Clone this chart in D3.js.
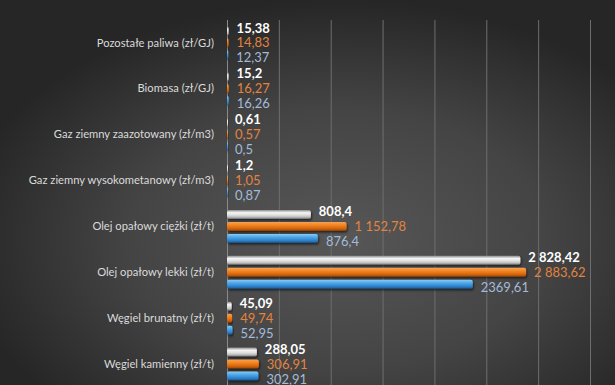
<!DOCTYPE html>
<html>
<head>
<meta charset="utf-8">
<script src="https://cdn.jsdelivr.net/npm/d3@7"></script>
<style>
  html, body { margin: 0; padding: 0; background: #2b2b2b; }
  svg { display: block; }
  text { font-family: Lato, "Liberation Sans", sans-serif; }
</style>
</head>
<body>
<div id="chart"></div>
<script>
// Fuel prices by type
const categories = [
  'Pozostałe paliwa (zł/GJ)',
  'Biomasa (zł/GJ)',
  'Gaz ziemny zaazotowany (zł/m3)',
  'Gaz ziemny wysokometanowy (zł/m3)',
  'Olej opałowy ciężki (zł/t)',
  'Olej opałowy lekki (zł/t)',
  'Węgiel brunatny (zł/t)',
  'Węgiel kamienny (zł/t)'
]
const seriesWhite = [15.38, 15.2, 0.61, 1.2, 808.4, 2828.42, 45.09, 288.05]
const seriesOrange = [14.83, 16.27, 0.57, 1.05, 1152.78, 2883.62, 49.74, 306.91]
const seriesBlue = [12.37, 16.26, 0.5, 0.87, 876.4, 2369.61, 52.95, 302.91]
const labelsWhite = ['15,38', '15,2', '0,61', '1,2', '808,4', '2 828,42', '45,09', '288,05']
const labelsOrange = ['14,83', '16,27', '0,57', '1,05', '1 152,78', '2 883,62', '49,74', '306,91']
const labelsBlue = ['12,37', '16,26', '0,5', '0,87', '876,4', '2369,61', '52,95', '302,91']
const xTicks = [0, 500, 1000, 1500, 2000, 2500, 3000, 3500]

const width = 615,
      height = 385

const svg = d3.select('#chart')
  .append('svg')
  .attr('width', width)
  .attr('height', height)

const defs = svg.append('defs')

// background
const bg = defs.append('radialGradient')
  .attr('id', 'bg')
  .attr('cx', '55%').attr('cy', '62%').attr('r', '62%')
bg.append('stop').attr('offset', '0%').attr('stop-color', '#575757')
bg.append('stop').attr('offset', '55%').attr('stop-color', '#444444')
bg.append('stop').attr('offset', '100%').attr('stop-color', '#262626')

svg.append('rect')
  .attr('width', width)
  .attr('height', height)
  .attr('fill', 'url(#bg)')

// bar gradients
const series = [
  { key: 'w', values: seriesWhite, labels: labelsWhite, text: '#ffffff', weight: 'bold',
    stops: ['#8c8c8c', '#f4f4f4', '#e2e2e2', '#bcbcbc', '#6d6d6d'] },
  { key: 'o', values: seriesOrange, labels: labelsOrange, text: '#e3833f', weight: 'normal',
    stops: ['#f2a35c', '#f48a2a', '#e9740f', '#c95f0a', '#8a3e05'] },
  { key: 'b', values: seriesBlue, labels: labelsBlue, text: '#a3bbd9', weight: 'normal',
    stops: ['#8ccbf3', '#56acea', '#3a95dc', '#2b78c0', '#174d80'] }
]

series.forEach(s => {
  const g = defs.append('linearGradient')
    .attr('id', 'grad-' + s.key)
    .attr('x1', 0).attr('y1', 0).attr('x2', 0).attr('y2', 1)
  const offs = [0, 0.3, 0.55, 0.8, 1]
  s.stops.forEach((c, i) => {
    g.append('stop').attr('offset', offs[i]).attr('stop-color', c)
  })
})

const shadow = defs.append('filter')
  .attr('id', 'shadow')
  .attr('x', '-5%').attr('y', '-30%').attr('width', '120%').attr('height', '190%')
shadow.append('feDropShadow')
  .attr('dx', 1).attr('dy', 1.5).attr('stdDeviation', 1)
  .attr('flood-color', '#000').attr('flood-opacity', 0.6)

// scales
const x = d3.scaleLinear()
  .domain([0, 3500])
  .range([227, 590])

const y = d3.scaleBand()
  .domain(categories)
  .range([20, 387])

const y1 = d3.scaleBand()
  .domain([0, 1, 2])
  .range([y.bandwidth() / 2 - 16.5, y.bandwidth() / 2 + 16.5])
  .paddingInner(0.25)

// gridlines
svg.append('g')
  .attr('class', 'grid')
  .attr('transform', `translate(0, ${ height })`)
  .call(d3.axisBottom(x)
    .tickValues(xTicks.slice(1))
    .tickSize(-(height - 20))
    .tickFormat(''))
  .call(g => g.select('.domain').remove())
  .call(g => g.selectAll('line').attr('stroke', '#6e6e6e').attr('stroke-width', 1))

// category axis
svg.append('g')
  .attr('transform', `translate(${ x(0) }, 0)`)
  .call(d3.axisLeft(y).tickSize(0).tickPadding(13))
  .call(g => g.select('.domain')
    .attr('d', `M0.5,20V${ height }`)
    .attr('stroke', '#8a8a8a'))
  .call(g => g.selectAll('text')
    .attr('fill', '#dadada')
    .attr('font-size', 11.2)
    .attr('font-family', 'Lato, sans-serif'))

// bars
const groups = svg.selectAll('.cat')
  .data(categories)
  .enter()
  .append('g')
  .attr('class', 'cat')
  .attr('transform', d => `translate(0, ${ y(d) })`)

series.forEach((s, si) => {
  groups.append('rect')
    .attr('x', x(0))
    .attr('y', y1(si))
    .attr('width', (d, i) => Math.max(1, x(s.values[i]) - x(0)))
    .attr('height', y1.bandwidth())
    .attr('rx', 2)
    .attr('fill', `url(#grad-${ s.key })`)
    .attr('filter', 'url(#shadow)')

  groups.append('text')
    .attr('x', (d, i) => x(s.values[i]) + 8)
    .attr('y', y.bandwidth() / 2 + (si - 1) * 15)
    .attr('dy', '0.35em')
    .attr('fill', s.text)
    .attr('font-weight', s.weight)
    .attr('font-size', 13)
    .text((d, i) => s.labels[i])
})
</script>
</body>
</html>
